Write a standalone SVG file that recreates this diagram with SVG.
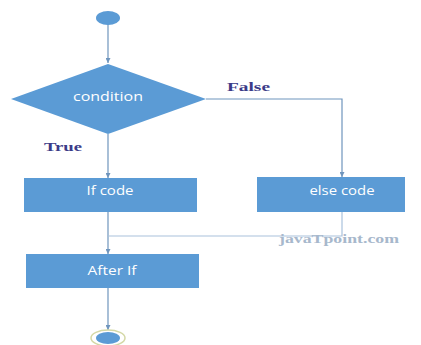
<svg xmlns="http://www.w3.org/2000/svg" width="421" height="345" viewBox="0 0 421 345">
  <style>
    .shape { fill: #5b9bd5; }
    .label { fill: #ffffff; font-family: "Open Sans", "Liberation Sans", sans-serif; font-size: 13.5px; text-anchor: middle; dominant-baseline: central; }
    .edge { fill: none; stroke: #6f95bd; stroke-width: 1.2; }
    .edge-light { fill: none; stroke: #a9c2dc; stroke-width: 1.2; }
    .branch { fill: #3b3b88; font-family: "Liberation Serif", serif; font-weight: bold; font-size: 11.5px; }
    .mark { fill: #a7b8cc; font-family: "Liberation Serif", serif; font-weight: bold; font-size: 12px; }
  </style>
  <defs>
    <marker id="arrow" viewBox="0 0 10 10" refX="10" refY="5" markerWidth="5" markerHeight="5" orient="auto" markerUnits="userSpaceOnUse">
      <path d="M0,0 L10,5 L0,10 Z" fill="#6f95bd"/>
    </marker>
  </defs>
  <rect width="421" height="345" fill="#ffffff"/>

  <g id="connectors">
    <line class="edge" x1="108" y1="24" x2="108" y2="63" marker-end="url(#arrow)"/>
    <polyline class="edge" points="206,99 342,99 342,177" marker-end="url(#arrow)"/>
    <line class="edge" x1="108" y1="134" x2="108" y2="178" marker-end="url(#arrow)"/>
    <line class="edge" x1="108" y1="212" x2="108" y2="254" marker-end="url(#arrow)"/>
    <polyline class="edge-light" points="342,212 342,236 108,236"/>
    <line class="edge" x1="108" y1="288" x2="108" y2="330" marker-end="url(#arrow)"/>
  </g>

  <g id="start">
    <ellipse class="shape" cx="108" cy="18" rx="12" ry="7"/>
  </g>

  <g id="condition">
    <polygon class="shape" points="108,64 206,99 108,134 11,99"/>
    <text class="label" x="108" y="96" textLength="70" lengthAdjust="spacingAndGlyphs">condition</text>
  </g>

  <g id="if-code">
    <rect class="shape" x="24" y="178" width="173" height="34"/>
    <text class="label" x="110" y="190" textLength="47" lengthAdjust="spacingAndGlyphs">If code</text>
  </g>

  <g id="else-code">
    <rect class="shape" x="257" y="177" width="148" height="35"/>
    <text class="label" x="342" y="190" textLength="65" lengthAdjust="spacingAndGlyphs">else code</text>
  </g>

  <g id="after-if">
    <rect class="shape" x="26" y="254" width="173" height="34"/>
    <text class="label" x="112" y="270" textLength="49" lengthAdjust="spacingAndGlyphs">After If</text>
  </g>

  <g id="end">
    <ellipse cx="108" cy="338" rx="17" ry="8" fill="#ffffff" stroke="#d4d8a6" stroke-width="1.5"/>
    <ellipse class="shape" cx="108" cy="338" rx="12" ry="6"/>
  </g>

  <text class="branch" x="227" y="91" textLength="43" lengthAdjust="spacingAndGlyphs">False</text>
  <text class="branch" x="44" y="151" textLength="38" lengthAdjust="spacingAndGlyphs">True</text>
  <text class="mark" x="279" y="243" textLength="120" lengthAdjust="spacingAndGlyphs">javaTpoint.com</text>
</svg>
